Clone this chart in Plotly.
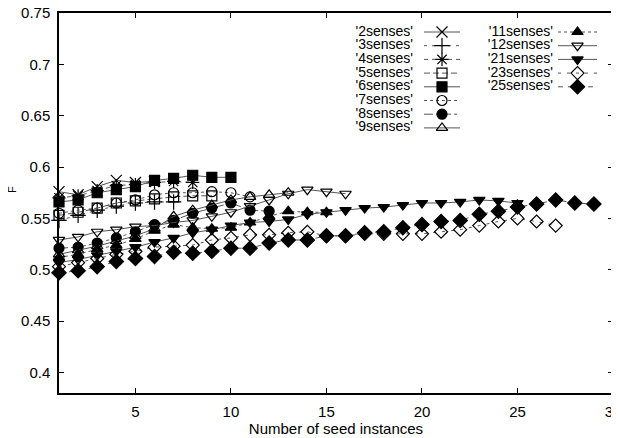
import plotly.graph_objects as go

# ---- data ----
series_names = ["'2senses'", "'3senses'", "'4senses'", "'5senses'", "'6senses'", "'7senses'",
                "'8senses'", "'9senses'", "'11senses'", "'12senses'", "'21senses'", "'23senses'", "'25senses'"]

s2 = [0.576, 0.573, 0.581, 0.587, 0.585, 0.586]
s3 = [0.548, 0.553, 0.558, 0.562, 0.565, 0.566, 0.566]
s4 = [0.570, 0.572, 0.577, 0.582, 0.583, 0.585, 0.586, 0.585]
s5 = [0.553, 0.556, 0.560, 0.565, 0.567, 0.569, 0.571, 0.572, 0.572]
s6 = [0.566, 0.568, 0.575, 0.578, 0.581, 0.587, 0.589, 0.592, 0.590, 0.590]
s7 = [0.555, 0.558, 0.560, 0.565, 0.568, 0.573, 0.575, 0.575, 0.576, 0.575, 0.571]
s8 = [0.521, 0.522, 0.526, 0.531, 0.537, 0.544, 0.548, 0.555, 0.560, 0.565, 0.558, 0.557]
s9 = [0.515, 0.519, 0.523, 0.528, 0.533, 0.540, 0.552, 0.558, 0.563, 0.568, 0.571, 0.573, 0.575]
s11 = [0.512, 0.515, 0.520, 0.524, 0.530, 0.538, 0.544, 0.541, 0.540, 0.541, 0.546, 0.552, 0.557, 0.556, 0.556]
s12 = [0.529, 0.532, 0.537, 0.539, 0.542, 0.543, 0.546, 0.548, 0.552, 0.556, 0.562, 0.568, 0.574, 0.578, 0.576, 0.574]
s21 = [0.507, 0.510, 0.514, 0.518, 0.522, 0.527, 0.531, 0.536, 0.539, 0.543, 0.546, 0.547, 0.549,
       0.554, 0.556, 0.558, 0.560, 0.561, 0.563, 0.565, 0.565, 0.566, 0.568, 0.567, 0.565]
s23 = [0.503, 0.507, 0.511, 0.515, 0.518, 0.522, 0.523, 0.524, 0.529, 0.531, 0.534, 0.534, 0.536, 0.537,
       0.533, 0.533, 0.535, 0.535, 0.535, 0.535, 0.537, 0.539, 0.543, 0.547, 0.550, 0.547, 0.543]
s25 = [0.497, 0.499, 0.503, 0.508, 0.511, 0.513, 0.517, 0.516, 0.518, 0.521, 0.521, 0.526, 0.529, 0.529,
       0.533, 0.533, 0.536, 0.537, 0.541, 0.544, 0.547, 0.548, 0.554, 0.557, 0.561, 0.564, 0.568, 0.565, 0.564]

values = [s2, s3, s4, s5, s6, s7, s8, s9, s11, s12, s21, s23, s25]

x_ticks = [5, 10, 15, 20, 25, 30]
y_ticks = [0.4, 0.45, 0.5, 0.55, 0.6, 0.65, 0.7, 0.75]
y_tick_labels = ["0.4", "0.45", "0.5", "0.55", "0.6", "0.65", "0.7", "0.75"]

# ---- styles ----
symbols = ["x-thin-open", "cross-thin-open", "asterisk-open", "square-open", "square", "circle-open",
           "circle", "triangle-up-open", "triangle-up", "triangle-down-open", "triangle-down",
           "diamond-open", "diamond"]
dashes = ["solid", "3px,5px", "4px,4px", "6px,3px", "solid", "dot",
          "dashdot", "solid", "dot", "solid", "solid", "3px,6px", "5px,5px"]
sizes = [11, 11, 11, 10, 10, 10, 10, 10, 10, 10, 10, 10, 11]

LINE = "#555555"
FONT = "Liberation Sans, Arial, sans-serif"

fig = go.Figure()

for name, vals, sym, dsh, sz in zip(series_names, values, symbols, dashes, sizes):
    xs = list(range(1, len(vals) + 1))
    fig.add_trace(go.Scatter(
        x=xs, y=vals, mode="lines+markers", name=name, showlegend=False,
        line=dict(color=LINE, width=1, dash=dsh),
        marker=dict(symbol=sym, size=sz, color="black",
                    line=dict(color="black", width=1.2)),
        cliponaxis=False,
    ))

# ---- page geometry (the page body adds an 8px offset) ----
OFF = 8
W, H = 619, 438
L, R, T, B = 59, 613, 13, 393

# ---- manual gnuplot-style key on an overlay pixel axis ----
row_y = [32, 45.7, 59.4, 73.1, 86.8, 100.5, 114.2, 127.9]
col_text_right = [413, 553]
col_sample = [(424, 460), (558, 597)]
for col in range(2):
    idx = list(range(0, 8)) if col == 0 else list(range(8, 13))
    ys = [row_y[k] for k in range(len(idx))]
    fig.add_trace(go.Scatter(
        x=[col_text_right[col]] * len(idx), y=ys, xaxis="x2", yaxis="y2",
        mode="text", text=[series_names[i] for i in idx], textposition="middle left",
        textfont=dict(family=FONT, size=14, color="black"),
        showlegend=False, hoverinfo="skip", cliponaxis=False,
    ))
for i, (name, sym, dsh, sz) in enumerate(zip(series_names, symbols, dashes, sizes)):
    col = 0 if i < 8 else 1
    row = i if i < 8 else i - 8
    y = row_y[row]
    x0, x1 = col_sample[col]
    fig.add_trace(go.Scatter(
        x=[x0, (x0 + x1) / 2, x1], y=[y, y, y], xaxis="x2", yaxis="y2",
        mode="lines", showlegend=False, hoverinfo="skip",
        line=dict(color=LINE, width=1, dash=dsh),
    ))
    fig.add_trace(go.Scatter(
        x=[(x0 + x1) / 2], y=[y], xaxis="x2", yaxis="y2",
        mode="markers", showlegend=False, hoverinfo="skip",
        marker=dict(symbol=sym, size=sz, color="black", line=dict(color="black", width=1.2)),
    ))

fig.add_annotation(x=(12 - L) / (R - L), y=(B - 190) / (B - T), xref="paper", yref="paper",
                   text="F", textangle=-90,
                   showarrow=False, xanchor="center", yanchor="middle",
                   font=dict(family=FONT, size=11, color="black"))

axis_common = dict(showline=True, linecolor="black", linewidth=1.5, mirror="ticks",
                   ticks="inside", ticklen=5, tickwidth=1, tickcolor="black",
                   showgrid=False, zeroline=False, ticklabelstandoff=4,
                   ticklabeloverflow="allow",
                   tickfont=dict(family=FONT, size=15, color="black"))

fig.update_layout(
    width=W - OFF, height=H - OFF,
    margin=dict(l=L - OFF, r=W - R, t=T - OFF, b=H - B, autoexpand=False),
    paper_bgcolor="white", plot_bgcolor="white",
    xaxis=dict(range=[1, 30], tickvals=x_ticks,
               title=dict(text="Number of seed instances", standoff=3,
                          font=dict(family=FONT, size=15, color="black")),
               **axis_common),
    yaxis=dict(range=[0.38, 0.75], tickvals=y_ticks, ticktext=y_tick_labels, **axis_common),
    xaxis2=dict(overlaying="x", anchor="y2", range=[L, R], visible=False, fixedrange=True),
    yaxis2=dict(overlaying="y", anchor="x2", range=[B, T], visible=False, fixedrange=True),
)

fig.write_html("out.html")
